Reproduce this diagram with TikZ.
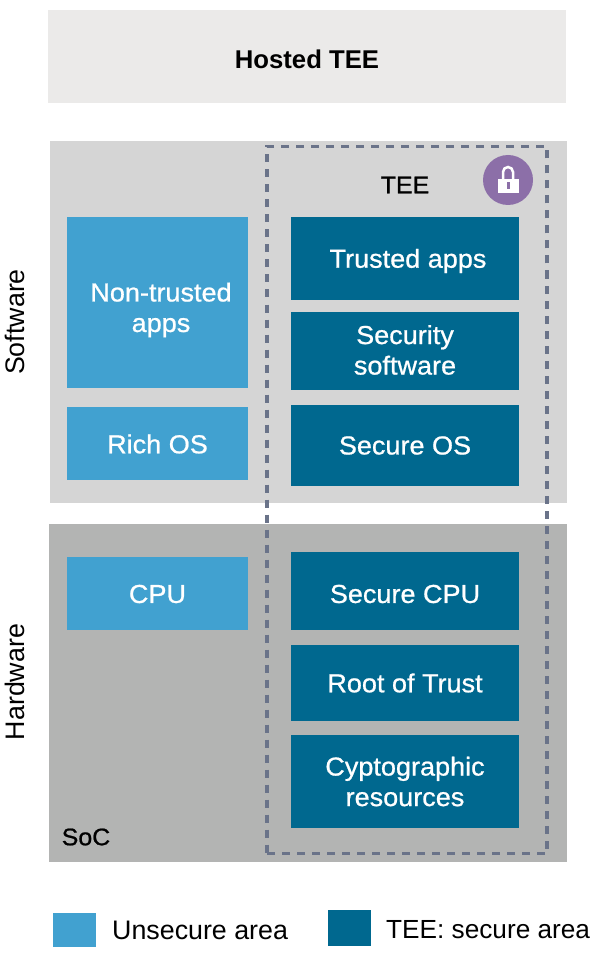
\documentclass[tikz,border=0pt]{standalone}
\usepackage{fontspec}
\setmainfont{Liberation Sans}
\newfontfamily\mediumfont[FakeBold=0.8,FakeStretch=1.04]{Liberation Sans}
\definecolor{unsecure}{HTML}{41A1D0}
\definecolor{secure}{HTML}{00688F}
\definecolor{hosted}{HTML}{EBEAE9}
\definecolor{softw}{HTML}{D5D5D5}
\definecolor{hardw}{HTML}{B3B4B3}
\definecolor{dashline}{HTML}{6A7389}
\definecolor{lockbg}{HTML}{8C6FA8}
\tikzset{
    x=1pt, y=-1pt,
    panel/.style={shape=rectangle, anchor=north west, inner sep=0pt, outer sep=0pt},
    box/.style={panel, text=white, align=center, font=\mediumfont\fontsize{26}{30.5}\selectfont},
    unsecurebox/.style={box, fill=unsecure},
    securebox/.style={box, fill=secure},
    caption/.style={text=black, inner sep=0pt, font=\fontsize{26.8}{30}\selectfont},
    mediumcaption/.style={text=black, inner sep=0pt, font=\mediumfont\fontsize{24}{30}\selectfont},
}
\begin{document}
\begin{tikzpicture}
    \useasboundingbox (0,0) rectangle (601,957);
    \node[panel, fill=hosted, minimum width=518pt, minimum height=93pt](hostedtee) at (48,10) {};
    \node[text=black, inner sep=0pt, font=\fontsize{25.7}{30}\selectfont\bfseries](hostedtext) at (307,59) {Hosted TEE};
    \node[panel, fill=softw, minimum width=517pt, minimum height=362pt](software) at (50,141) {};
    \node[panel, fill=hardw, minimum width=518pt, minimum height=338pt](hardware) at (49,524) {};
    \node[unsecurebox, minimum width=181pt, minimum height=171pt](nontrusted) at (67,217) {};
    \node[box, inner sep=0pt, anchor=center](nontrustedtext) at (161,310) {Non-trusted\\apps};
    \node[unsecurebox, minimum width=181pt, minimum height=73pt](richos) at (67,407) {};
    \node[box, inner sep=0pt, anchor=center](richostext) at (157.5,444) {Rich OS};
    \node[unsecurebox, minimum width=181pt, minimum height=73pt](cpu) at (67,557) {};
    \node[box, inner sep=0pt, anchor=center](cputext) at (157.5,594) {CPU};
    \node[securebox, minimum width=228pt, minimum height=83pt](trusted) at (291,217) {};
    \node[box, inner sep=0pt, anchor=center](trustedtext) at (408,261) {Trusted apps};
    \node[securebox, minimum width=228pt, minimum height=78pt](security) at (291,312) {};
    \node[box, inner sep=0pt, anchor=center](securitytext) at (405,350) {Security\\software};
    \node[securebox, minimum width=228pt, minimum height=81pt](secureos) at (291,405) {Secure OS};
    \node[securebox, minimum width=228pt, minimum height=78pt](securecpu) at (291,552) {};
    \node[box, inner sep=0pt, anchor=center](securecputext) at (405,594) {Secure CPU};
    \node[securebox, minimum width=228pt, minimum height=76pt](root) at (291,645) {Root of Trust};
    \node[securebox, minimum width=228pt, minimum height=93pt](crypto) at (291,735) {Cyptographic\\resources};
    \node[panel, draw=dashline, line width=3.5pt, dash pattern=on 8pt off 7pt, minimum width=280pt, minimum height=707pt](teearea) at (267,146.5) {};
    \node[mediumcaption](teelabel) at (405,185) {TEE};
    \node[mediumcaption](soclabel) at (86,837) {SoC};
    \node[caption, rotate=90](softwarelabel) at (15,322) {Software};
    \node[caption, rotate=90](hardwarelabel) at (15,682) {Hardware};
    % lock badge
    \node[shape=circle, fill=lockbg, minimum size=50pt, inner sep=0pt](lock) at (508,180) {};
    \draw[white, line width=2.5pt] ([shift={(-5,0)}]lock.center) -- ++(0,-8) arc[start angle=180, end angle=360, radius=5] -- ++(0,8);
    \fill[white] ([shift={(-10.5,-1)}]lock.center) rectangle ([shift={(10.5,13)}]lock.center);
    \fill[lockbg] ([shift={(-1.5,2)}]lock.center) rectangle ([shift={(1.5,9)}]lock.center);
    % legend
    \node[panel, fill=unsecure, minimum width=43pt, minimum height=34pt](legunsecure) at (53,913) {};
    \node[caption, anchor=west](legunsecuretext) at (112,930) {Unsecure area};
    \node[panel, fill=secure, minimum width=43pt, minimum height=36pt](legsecure) at (328,910) {};
    \node[caption, anchor=west, font=\fontsize{26.2}{30}\selectfont](legsecuretext) at (386,930) {TEE: secure area};
\end{tikzpicture}
\end{document}
